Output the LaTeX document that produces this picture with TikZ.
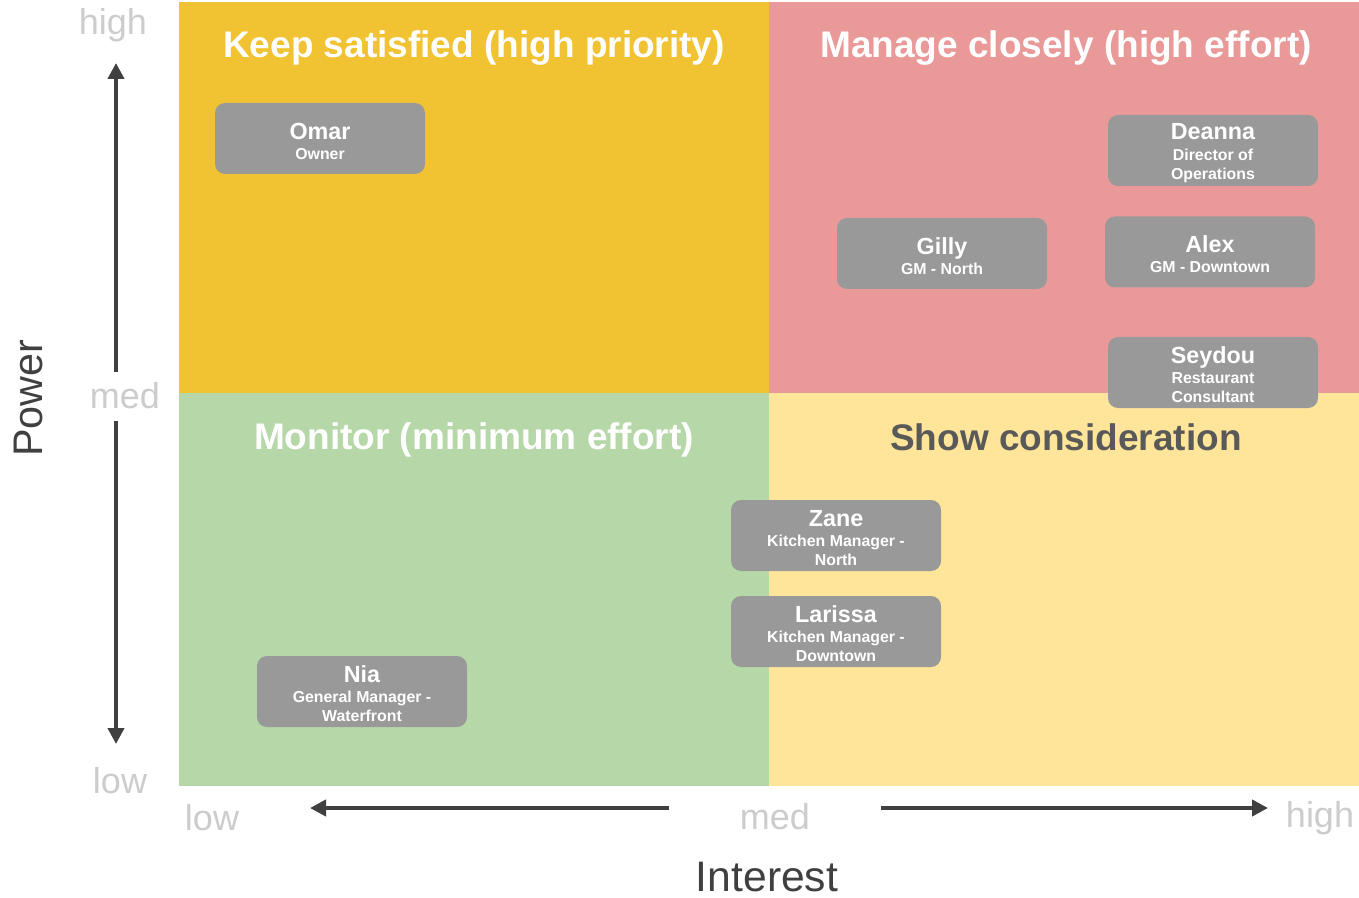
\documentclass[tikz,border=0pt]{standalone}
\usepackage{fontspec}
\setmainfont{Liberation Sans}
\usetikzlibrary{arrows.meta}
\definecolor{qorange}{HTML}{F1C232}
\definecolor{qpink}{HTML}{EA9999}
\definecolor{qgreen}{HTML}{B6D7A8}
\definecolor{qyellow}{HTML}{FFE599}
\definecolor{boxgray}{HTML}{999999}
\definecolor{axisdark}{HTML}{404040}
\definecolor{ticklbl}{HTML}{CCCCCC}
\definecolor{darktitle}{HTML}{595959}
\newcommand\pname[1]{{\fontsize{17.5}{18}\selectfont\rule{0pt}{16pt}#1}\\[0.8pt]}
\begin{document}
\begin{tikzpicture}[x=0.75pt,y=-0.75pt,
  qtitle/.style={font=\fontsize{27.75}{30}\selectfont\bfseries, text=white, inner sep=0pt},
  pbox/.style={fill=boxgray, rounded corners=7.5pt, minimum width=157.5pt, minimum height=53.25pt,
     align=center, text=white, font=\fontsize{11.9}{14.25}\selectfont\bfseries, inner sep=0pt},
  tick/.style={text=ticklbl, font=\fontsize{27}{30}\selectfont, inner sep=0pt},
  axlbl/.style={text=axisdark, inner sep=0pt},
  axarrow/.style={draw=axisdark, line width=3pt, -{Triangle[length=12pt,width=12pt]}}
]
\useasboundingbox (0,0) rectangle (1359,898);
% quadrants
\fill[qorange] (179,2) rectangle (769,393);
\fill[qpink] (769,2) rectangle (1359,393);
\fill[qgreen] (179,393) rectangle (769,786);
\fill[qyellow] (769,393) rectangle (1359,786);
% quadrant titles
\node[qtitle] (t1) at (474,48) {Keep satisfied (high priority)};
\node[qtitle] (t2) at (1066,48) {Manage closely (high effort)};
\node[qtitle] (t3) at (474,440) {Monitor (minimum effort)};
\node[qtitle, text=darktitle] (t4) at (1066,437) {Show consideration};
% people
\node[pbox] (omar) at (320,138.5) {\pname{Omar}Owner};
\node[pbox] (deanna) at (1213,150.5) {\pname{Deanna}Director of\\Operations};
\node[pbox] (gilly) at (942,253.5) {\pname{Gilly}GM - North};
\node[pbox] (alex) at (1210,252) {\pname{Alex}GM - Downtown};
\node[pbox] (seydou) at (1213,372.5) {\pname{Seydou}Restaurant\\Consultant};
\node[pbox] (zane) at (836,535.5) {\pname{Zane}Kitchen Manager -\\North};
\node[pbox] (larissa) at (836,631.5) {\pname{Larissa}Kitchen Manager -\\Downtown};
\node[pbox] (nia) at (362,691.5) {\pname{Nia}General Manager -\\Waterfront};
% axis tick labels
\node[tick] (yhigh) at (113,25) {high};
\node[tick] (ymed) at (125,396) {med};
\node[tick] (ylow) at (120,781) {low};
\node[tick] (xlow) at (212,818) {low};
\node[tick] (xmed) at (775,817) {med};
\node[tick] (xhigh) at (1320,818) {high};
% axis titles
\node[axlbl, font=\fontsize{31}{34}\selectfont, rotate=90] (power) at (28,398) {Power};
\node[axlbl, font=\fontsize{32}{34}\selectfont] (interest) at (767,877) {Interest};
% arrows
\coordinate (vupS) at (116,372);
\coordinate (vupE) at (116,63);
\coordinate (vdnS) at (116,421);
\coordinate (vdnE) at (116,744);
\coordinate (hlS) at (669,808);
\coordinate (hlE) at (310,808);
\coordinate (hrS) at (881,808);
\coordinate (hrE) at (1268,808);
\draw[axarrow] (vupS) -- (vupE);
\draw[axarrow] (vdnS) -- (vdnE);
\draw[axarrow] (hlS) -- (hlE);
\draw[axarrow] (hrS) -- (hrE);
\end{tikzpicture}
\end{document}
